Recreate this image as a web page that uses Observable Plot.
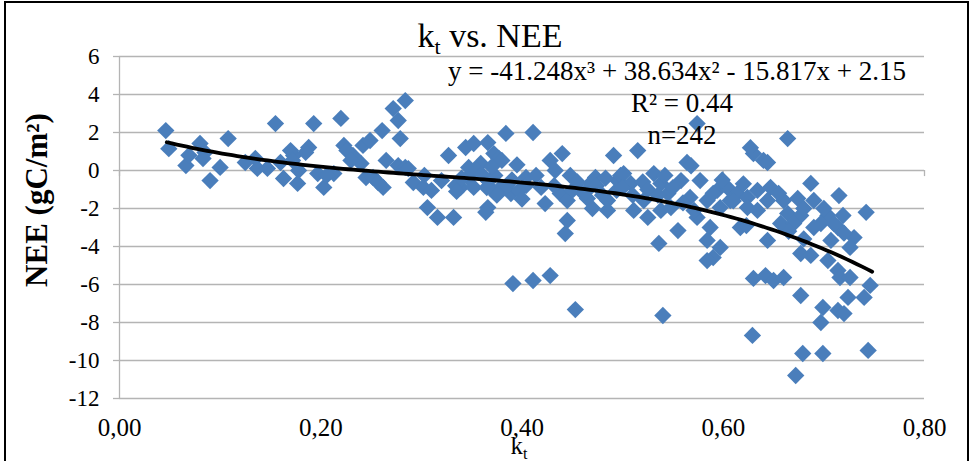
<!DOCTYPE html>
<html><head><meta charset="utf-8">
<script src="https://cdn.jsdelivr.net/npm/d3@7"></script>
<script src="https://cdn.jsdelivr.net/npm/@observablehq/plot@0.6"></script>
<style>
body{margin:0;background:#fff;}
#chart{width:976px;height:461px;overflow:hidden;}
</style></head><body>
<div id="chart"></div>
<script>
// Clearness index k_t (x) and NEE (y) for each day
const kt = [
0.046,0.049,0.066,0.069,0.080,0.085,0.083,0.090,0.100,0.108,0.125,0.135,0.137,0.147,0.155,0.160,0.163,0.173,0.177,
0.170,0.188,0.193,0.197,0.203,0.213,0.220,0.223,0.232,0.240,0.242,0.249,0.245,0.252,0.261,0.262,0.272,0.277,0.279,0.284,0.277,0.284,0.292,0.302,0.306,0.316,0.327,0.332,0.339,0.344,0.347,
0.172,0.178,0.185,0.206,0.226,0.230,0.257,0.265,0.287,0.303,0.310,0.320,0.334,
0.352,0.366,0.384,0.411,0.372,0.377,0.359,0.346,0.352,0.366,0.371,0.366,0.364,0.379,0.389,0.397,0.404,0.414,0.419,0.423,0.428,0.433,0.440,0.438,0.445,0.445,0.443,0.458,0.468,0.473,0.465,0.485,0.485,0.491,0.495,
0.391,0.411,0.428,0.453,
0.355,0.373,0.380,0.385,0.404,0.432,0.448,0.450,0.463,0.474,0.483,0.494,0.498,
0.515,0.574,0.564,0.501,0.508,0.531,0.538,0.558,0.577,0.545,0.521,0.511,0.525,0.538,0.548,0.567,0.574,0.584,0.594,0.604,0.614,0.624,0.634,0.624,0.634,0.644,0.597,0.607,0.587,0.584,0.597,0.590,0.584,0.617,0.555,0.536,0.630,0.627,0.640,0.644,0.630,0.642,0.540,0.629,
0.542,0.568,0.571,0.599,0.623,
0.664,0.644,0.647,0.687,0.660,0.674,0.690,0.715,0.742,0.664,0.677,0.704,0.719,0.657,0.670,0.697,0.714,0.730,0.707,0.726,0.677,0.687,0.704,0.714,0.650,0.660,0.716,0.726,0.746,0.677,0.724,0.740,0.699,0.714,0.697,0.720,0.679,0.699,0.744,0.672,
0.360,0.365,0.370,0.375,0.390,0.395,0.400,0.340,0.335,0.520,0.525,0.535,0.550,0.560,0.590,0.610,0.620,0.655,0.665,0.680,0.690,0.700,0.710,0.720,0.680,0.470,0.480,0.500,0.510,0.455
];
const nee = [
2.10,1.15,0.26,0.80,1.42,0.95,0.63,-0.53,0.16,1.68,0.42,0.63,0.11,0.11,2.47,0.42,-0.42,0.79,-0.68,
1.05,1.21,2.47,-0.16,-0.89,-0.16,2.74,1.32,0.79,0.37,1.32,1.58,-0.37,-0.37,2.10,-0.89,3.26,2.63,1.68,3.68,0.26,0.16,-0.63,-0.89,-1.95,-2.47,0.79,-2.47,-0.89,1.21,0.16,
0.53,0.00,0.95,-0.26,1.05,0.53,-0.63,0.53,0.10,-0.26,-1.05,-0.53,-0.80,
1.42,1.47,1.95,2.00,0.89,0.63,0.37,-0.37,-0.89,-0.53,-1.05,-1.95,-2.20,-0.89,-1.21,-1.05,-0.37,-0.26,-0.89,-1.74,0.53,0.00,0.89,-1.21,-1.58,-2.63,-3.32,-1.05,-0.68,-0.37,-1.47,-1.58,-2.10,0.79,-0.53,
-5.95,-5.79,-5.53,-7.32,
0.00,-0.26,0.53,-0.80,-0.80,-0.80,-0.26,-1.05,-1.15,-0.80,-0.40,-1.05,-0.26,
1.05,2.47,0.42,-0.16,-0.68,-0.16,-0.68,-0.53,-0.53,-1.21,-1.58,-2.10,-2.47,-2.10,-1.95,-1.42,-2.47,-1.58,-1.05,-0.89,-1.21,-1.42,-1.05,-1.95,-2.10,-1.58,-1.95,-1.58,-3.00,-3.68,-4.05,-4.58,-4.74,-3.00,-3.16,-3.84,0.89,1.20,0.53,-3.68,-5.68,-5.53,-7.63,-8.68,
-0.26,0.25,-2.10,-0.50,-2.90,
1.68,0.42,-0.89,-0.68,-1.58,-1.47,-1.58,-1.32,-2.20,-2.26,-2.37,-2.37,-2.37,-2.79,-2.79,-2.79,-3.00,-3.53,-3.68,-4.05,-4.37,-4.47,-4.74,-5.26,-5.79,-5.63,-5.63,-5.63,-6.05,-6.58,-6.68,-6.68,-7.21,-7.37,-8.00,-7.53,-9.63,-9.63,-9.47,-10.79,
-0.20,-0.90,0.20,-1.30,-0.50,0.30,-1.50,-0.40,-1.10,-0.60,-1.00,-1.30,-0.90,-1.70,-1.20,-1.60,-0.70,-1.20,-3.20,-2.00,-3.00,-2.00,-2.80,-3.30,-3.60,-2.00,-1.30,-0.90,-1.30,-0.60
];
// Third-order polynomial trend shown on the chart: y = c3 x^3 + c2 x^2 + c1 x + c0
const fitCoef = [-41.248, 38.634, -15.817, 2.15];
const fitRange = [0.047, 0.748];
const yTicks = [6, 4, 2, 0, -2, -4, -6, -8, -10, -12];
const xTicks = [0, 0.2, 0.4, 0.6, 0.8];
const titleMain = "k", titleSub = "t", titleRest = " vs. NEE";
const yLabel = "NEE (gC/m²)";
const eqText = "y = -41.248x³ + 38.634x² - 15.817x + 2.15";
const r2Text = "R² = 0.44";
const nText = "n=242";

const serif = "Liberation Serif, Times New Roman, serif";
const blue = "#4a7ebb";
const grid = "#b4b4b4";

const data = kt.map((x, i) => ({kt: x, nee: nee[i]}));
const fitX = d3.range(fitRange[0], fitRange[1] + 1e-9, (fitRange[1] - fitRange[0]) / 140);
const fit = fitX.map(x => ({kt: x, nee: ((fitCoef[0] * x + fitCoef[1]) * x + fitCoef[2]) * x + fitCoef[3]}));

const svg = Plot.plot({
  width: 976, height: 461,
  marginLeft: 119, marginRight: 52, marginTop: 56, marginBottom: 63,
  x: {domain: [0, 0.8]},
  y: {domain: [-12, 6]},
  style: {fontFamily: serif, background: "white", color: "#000"},
  marks: [
    Plot.ruleY(yTicks, {stroke: grid, strokeWidth: 1.3}),
    Plot.ruleX([0], {stroke: grid, strokeWidth: 1.3}),
    Plot.ruleX(xTicks, {y1: 0, y2: -0.32, stroke: grid, strokeWidth: 1.3}),
    Plot.axisY(yTicks, {tickSize: 6, tickPadding: 14, stroke: grid, strokeWidth: 1.3, fill: "#000", fontSize: 23, tickFormat: d => String(d), label: null}),
    Plot.axisX(xTicks, {tickSize: 0, tickPadding: 20, fill: "#000", fontSize: 25, tickFormat: d => d.toFixed(2).replace(".", ","), label: null}),
    Plot.dot(data, {x: "kt", y: "nee", symbol: "diamond2", r: 7.8, fill: blue, stroke: "none"}),
    Plot.line(fit, {x: "kt", y: "nee", stroke: "#000", strokeWidth: 3.8})
  ]
});

const s = d3.select(svg);
// force the serif face on the axis tick labels
s.selectAll("text").style("font-family", serif);
// outer chart frame
s.append("rect").attr("x", 5).attr("y", 2).attr("width", 963).attr("height", 480)
  .attr("fill", "none").attr("stroke", "#000").attr("stroke-width", 2);
// title
const t = s.append("text").attr("x", 490).attr("y", 47).attr("text-anchor", "middle")
  .style("font-family", serif).attr("font-size", 34).attr("fill", "#000");
t.append("tspan").text(titleMain);
t.append("tspan").attr("font-size", 22).attr("dy", 7).text(titleSub);
t.append("tspan").attr("dy", -7).text(titleRest);
// y label
s.append("text").attr("transform", "translate(47,200) rotate(-90)").attr("text-anchor", "middle")
  .style("font-family", serif).attr("font-size", 31).attr("font-weight", "bold").attr("fill", "#000").text(yLabel);
// x label
const xl = s.append("text").attr("x", 519).attr("y", 454).attr("text-anchor", "middle")
  .style("font-family", serif).attr("font-size", 25).attr("fill", "#000");
xl.append("tspan").text("k");
xl.append("tspan").attr("font-size", 16).attr("dy", 5).text("t");
// equation block
const lines = [[eqText, 677, 80], [r2Text, 682, 112], [nText, 682, 144]];
lines.forEach(([txt, x, y]) => {
  s.append("text").attr("x", x).attr("y", y).attr("text-anchor", "middle")
    .style("font-family", serif).attr("font-size", 27).attr("fill", "#000").text(txt);
});
document.getElementById("chart").appendChild(svg);
</script>
</body></html>
